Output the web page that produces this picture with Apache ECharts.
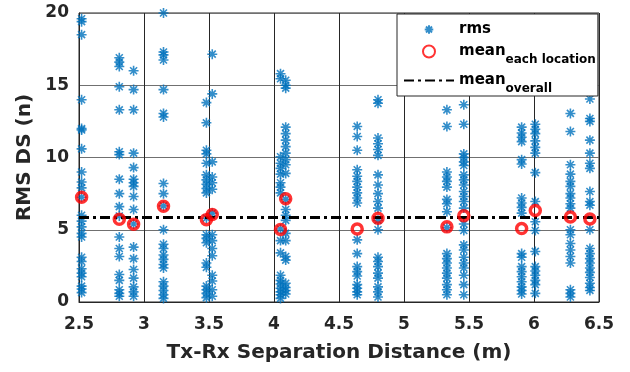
<!DOCTYPE html>
<html>
<head>
<meta charset="utf-8">
<script src="https://cdn.jsdelivr.net/npm/echarts@6/dist/echarts.min.js"></script>
<style>
  html, body { margin: 0; padding: 0; background: #fff; }
  #chart { width: 630px; height: 372px; }
</style>
</head>
<body>
<div id="chart"></div>
<script>
// measurement locations (m)
const locations = [2.52, 2.81, 2.92, 3.15, 3.48, 3.525, 4.05, 4.09, 4.64, 4.80, 5.33, 5.46, 5.905, 6.01, 6.28, 6.43];

// rms delay spread samples, one array per location
const rms252 = [19.6, 19.4, 18.5, 14.0, 12.0, 11.9, 10.6, 9.0, 8.3, 7.9, 7.25, 6.0, 5.6, 5.2, 4.75, 4.5, 3.1, 2.8, 2.3, 2.0, 1.75, 1.1, 0.9, 0.65];
const rms281 = [16.9, 16.6, 16.3, 14.9, 13.3, 10.4, 10.2, 8.5, 7.5, 6.6, 5.95, 4.5, 3.7, 3.15, 1.9, 1.5, 0.85, 0.6, 0.4];
const rms292 = [16.0, 14.7, 13.3, 10.3, 9.3, 8.5, 8.25, 8.0, 7.3, 6.4, 5.4, 3.8, 3.0, 2.25, 1.65, 1.05, 0.7, 0.4];
const rms315 = [20.0, 17.3, 17.1, 16.75, 14.7, 13.05, 12.8, 8.2, 7.5, 6.65, 5.0, 4.0, 3.7, 3.25, 2.95, 2.6, 2.35, 1.4, 1.1, 0.8, 0.5, 0.25];
const rms348 = [13.8, 12.4, 10.5, 10.25, 9.6, 8.8, 8.45, 8.15, 7.85, 7.55, 5.8, 4.65, 4.4, 4.1, 2.7, 2.4, 1.1, 0.85, 0.6, 0.3];
const rms352 = [17.15, 14.4, 9.7, 8.65, 8.25, 7.8, 6.15, 4.65, 4.25, 3.7, 3.2, 1.85, 1.45, 0.85, 0.4];
const rms405 = [15.8, 15.45, 10.05, 9.6, 9.25, 8.85, 8.25, 7.95, 7.55, 5.05, 4.25, 3.4, 1.85, 1.5, 1.25, 0.95, 0.7, 0.5, 0.25];
const rms409 = [15.35, 15.0, 14.8, 12.1, 11.65, 11.2, 10.75, 10.3, 9.85, 9.5, 8.9, 7.1, 6.4, 6.0, 5.65, 4.75, 4.25, 3.15, 2.9, 1.3, 1.0, 0.8, 0.55];
const rms464 = [12.15, 11.45, 10.5, 9.15, 8.7, 8.35, 7.95, 7.55, 7.2, 6.85, 4.3, 3.35, 2.45, 2.1, 1.8, 1.2, 0.95, 0.7, 0.5];
const rms480 = [14.0, 13.75, 11.35, 10.95, 10.55, 10.15, 8.8, 8.1, 7.5, 6.95, 6.5, 5.65, 5.0, 3.1, 2.8, 2.45, 2.0, 1.65, 1.05, 0.7, 0.35];
const rms533 = [13.3, 12.15, 9.0, 8.65, 8.35, 7.95, 7.1, 6.8, 6.25, 5.15, 3.35, 3.0, 2.7, 2.35, 2.0, 1.65, 1.2, 0.85, 0.5];
const rms546 = [13.65, 12.3, 10.25, 10.0, 9.7, 9.45, 8.8, 8.45, 8.1, 7.65, 7.3, 6.95, 6.5, 5.4, 4.95, 3.95, 3.6, 3.1, 2.7, 2.35, 1.85, 1.2, 0.5];
const rms590 = [12.1, 11.7, 11.4, 11.1, 9.85, 9.55, 7.2, 6.85, 6.55, 6.15, 3.35, 3.1, 2.45, 2.1, 1.75, 1.4, 1.05, 0.8, 0.55];
const rms601 = [12.3, 11.95, 11.65, 11.15, 10.7, 10.3, 8.95, 6.95, 5.55, 4.95, 3.5, 2.45, 2.15, 1.85, 1.5, 1.2, 0.6];
const rms628 = [13.05, 11.8, 9.5, 8.85, 8.35, 8.0, 7.5, 7.2, 6.8, 6.5, 5.0, 4.65, 4.05, 3.6, 3.15, 2.7, 0.85, 0.6, 0.35];
const rms643 = [14.05, 12.7, 12.5, 11.2, 10.3, 9.6, 9.25, 7.65, 6.95, 6.7, 5.0, 3.7, 3.35, 3.0, 2.7, 2.35, 2.05, 1.7, 1.3, 1.0, 0.8];

const rmsSets = [rms252, rms281, rms292, rms315, rms348, rms352, rms405, rms409,
                 rms464, rms480, rms533, rms546, rms590, rms601, rms628, rms643];

// mean at each location and overall mean
const meanEach = [7.25, 5.72, 5.38, 6.62, 5.7, 6.05, 5.02, 7.15, 5.05, 5.8, 5.2, 5.97, 5.08, 6.33, 5.88, 5.75];
const meanOverall = 5.85;

const xRange = [2.5, 6.5];
const yRange = [0, 20];

const rmsPoints = [];
locations.forEach((x, i) => rmsSets[i].forEach(v => rmsPoints.push([x, v])));
const meanPoints = locations.map((x, i) => [x, meanEach[i]]);
const overallLine = xRange.map(x => [x, meanOverall]);

const FONT = 'DejaVu Sans';
const BLUE = '#0072BD';
const STAR = 'path://M5,0L5,10M0,5L10,5M1.5,1.5L8.5,8.5M1.5,8.5L8.5,1.5';
const STAR_LEGEND = 'path://M-2,-2M12,12M5,0L5,10M0,5L10,5M1.5,1.5L8.5,8.5M1.5,8.5L8.5,1.5';

const chart = echarts.init(document.getElementById('chart'));
chart.setOption({
  animation: false,
  grid: { left: 79, right: 31, top: 13, bottom: 70, show: true, borderColor: '#262626', borderWidth: 1 },
  xAxis: {
    type: 'value', min: xRange[0], max: xRange[1], interval: 0.5,
    name: 'Tx-Rx Separation Distance (m)', nameLocation: 'middle', nameGap: 41,
    nameTextStyle: { fontFamily: FONT, fontWeight: 'bold', fontSize: 20, color: '#262626' },
    axisLine: { show: true, lineStyle: { color: '#262626' } },
    axisTick: { show: false },
    axisLabel: { fontFamily: FONT, fontWeight: 'bold', fontSize: 17, color: '#262626', margin: 14 },
    splitLine: { show: true, lineStyle: { color: '#262626', width: 1 } }
  },
  yAxis: {
    type: 'value', min: yRange[0], max: yRange[1], interval: 5,
    name: 'RMS DS (n)', nameLocation: 'middle', nameGap: 43,
    nameTextStyle: { fontFamily: FONT, fontWeight: 'bold', fontSize: 20, color: '#262626' },
    axisLine: { show: true, lineStyle: { color: '#262626' } },
    axisTick: { show: false },
    axisLabel: { fontFamily: FONT, fontWeight: 'bold', fontSize: 17, color: '#262626', margin: 10 },
    splitLine: { show: true, lineStyle: { color: '#707070', width: 1 } }
  },
  legend: {
    orient: 'vertical', left: 397, top: 14,
    padding: [8, 2, 1, 6], itemGap: 0,
    itemWidth: 50, itemHeight: 12,
    backgroundColor: '#fff', borderColor: '#262626', borderWidth: 1,
    data: [
      { name: 'rms', icon: STAR_LEGEND },
      { name: 'mean each location' },
      { name: 'mean overall', itemStyle: { color: 'rgba(0,0,0,0)', borderWidth: 0, opacity: 0 } }
    ],
    formatter: function (name) {
      if (name === 'rms') return '{r|rms}';
      if (name === 'mean each location') return '{m|mean}{s|each location}';
      return '{m|mean}{s|overall}';
    },
    textStyle: {
      fontFamily: FONT, fontWeight: 'bold', color: '#000',
      rich: {
        r: { fontFamily: FONT, fontWeight: 'bold', fontSize: 15, lineHeight: 20, color: '#000' },
        m: { fontFamily: FONT, fontWeight: 'bold', fontSize: 15, lineHeight: 16, color: '#000' },
        s: { fontFamily: FONT, fontWeight: 'bold', fontSize: 12, lineHeight: 14, padding: [17, 0, 0, 0], color: '#000' }
      }
    }
  },
  series: [
    {
      name: 'rms', type: 'scatter', data: rmsPoints,
      symbol: STAR, symbolSize: 10,
      itemStyle: { color: BLUE, borderColor: BLUE, borderWidth: 1.6 },
      z: 2
    },
    {
      name: 'mean overall', type: 'line', data: overallLine,
      symbol: 'none', itemStyle: { color: '#000' },
      lineStyle: { color: '#000', width: 3, type: [10, 4, 3, 4] },
      z: 3
    },
    {
      name: 'mean each location', type: 'scatter', data: meanPoints,
      symbol: 'circle', symbolSize: 10,
      itemStyle: { color: 'rgba(0,0,0,0)', borderColor: '#ff0000', borderWidth: 3.5 },
      z: 4
    }
  ]
});
</script>
</body>
</html>
